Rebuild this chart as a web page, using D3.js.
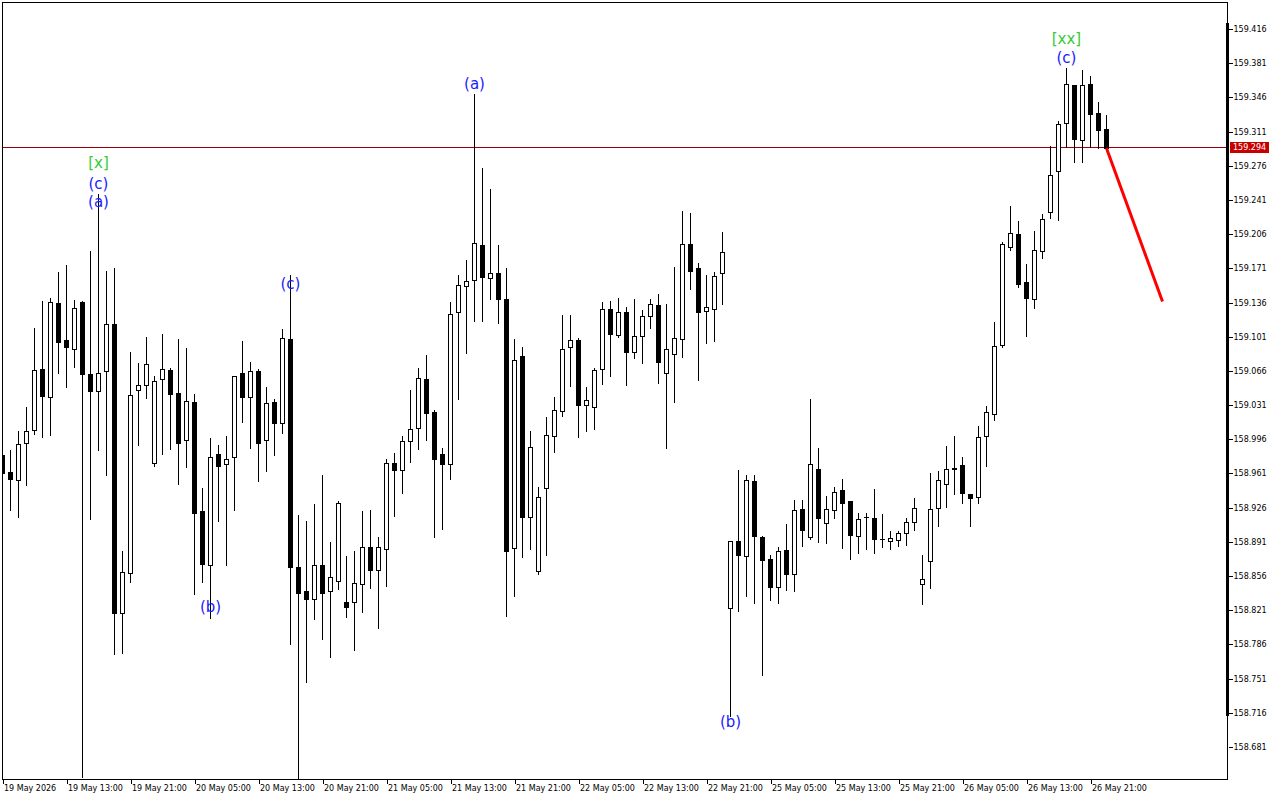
<!DOCTYPE html>
<html><head><meta charset="utf-8">
<script src="https://cdn.jsdelivr.net/npm/d3@7"></script>
<style>body{margin:0;background:#fff;} svg{display:block;} text{font-family:"DejaVu Sans",sans-serif;}</style>
</head><body>
<svg id="chart" width="1280" height="800"></svg>
<script>
const opens = [158.980,158.962,158.954,158.992,159.005,159.068,159.039,159.136,159.098,159.088,
159.137,159.063,159.045,159.066,159.114,158.818,158.859,159.046,159.052,158.972,
159.058,159.067,159.043,158.995,159.034,158.923,158.867,158.981,158.971,158.978,
159.064,159.039,159.066,158.995,159.034,159.013,159.099,158.865,158.841,158.833,
158.867,158.841,158.851,158.829,158.829,158.848,158.886,158.862,158.884,158.972,
158.965,158.994,159.008,159.058,159.024,158.981,158.971,159.126,159.153,159.159,
159.195,159.161,159.166,159.140,158.885,159.081,158.916,158.861,158.946,158.999,
159.025,159.090,159.098,159.031,159.029,159.068,159.129,159.103,159.126,159.085,
159.102,159.122,159.133,159.064,159.083,159.099,159.196,159.171,159.127,159.129,
159.166,158.823,158.892,158.877,158.953,158.896,158.873,158.845,158.883,158.858,
158.925,158.896,158.966,158.910,158.924,158.944,158.933,158.897,158.916,158.915,
158.894,158.892,158.893,158.900,158.911,158.848,158.871,158.926,158.950,158.966,
158.970,158.940,158.937,158.999,159.022,159.093,159.193,159.206,159.157,159.140,
159.189,159.229,159.271,159.320,159.359,159.302,159.360,159.330,159.314];
const highs = [158.990,158.986,159.005,159.030,159.111,159.139,159.142,159.168,159.175,159.140,
159.139,159.190,159.248,159.169,159.172,158.883,159.086,159.075,159.102,159.062,
159.105,159.070,159.100,159.090,159.043,158.947,158.998,158.991,159.000,159.062,
159.098,159.076,159.069,159.051,159.038,159.110,159.165,158.920,158.913,158.931,
158.960,158.892,158.934,158.878,158.883,158.924,158.925,158.897,158.977,158.983,
159.000,159.047,159.070,159.083,159.027,158.988,159.138,159.165,159.181,159.350,
159.275,159.253,159.196,159.172,159.100,159.092,159.005,158.948,159.020,159.040,
159.124,159.124,159.101,159.051,159.070,159.138,159.139,159.142,159.132,159.141,
159.129,159.141,159.146,159.136,159.173,159.231,159.229,159.177,159.165,159.168,
159.209,158.893,158.966,158.960,158.960,158.898,158.879,158.887,158.910,158.935,
158.935,159.038,158.988,158.939,158.948,158.956,158.934,158.922,158.922,158.946,
158.921,158.903,158.903,158.916,158.937,158.879,158.962,158.965,158.990,159.000,
158.979,158.941,159.011,159.031,159.117,159.199,159.236,159.220,159.176,159.210,
159.228,159.297,159.323,159.377,159.360,159.375,159.369,159.342,159.329];
const lows = [158.954,158.925,158.917,158.950,159.002,158.999,159.001,159.065,159.051,159.071,
158.651,158.915,158.986,158.960,158.777,158.778,158.851,158.991,159.039,158.970,
158.982,158.987,158.951,158.969,158.839,158.851,158.814,158.913,158.868,158.925,
159.015,158.988,158.954,158.965,158.981,159.003,158.787,158.645,158.749,158.813,
158.793,158.774,158.844,158.815,158.781,158.820,158.845,158.804,158.847,158.918,
158.942,158.974,158.987,158.996,158.897,158.905,158.956,159.038,159.085,159.118,
159.118,159.141,159.116,158.816,158.837,158.877,158.885,158.859,158.879,158.984,
159.021,159.052,158.999,159.005,159.008,159.054,159.062,159.102,159.053,159.080,
159.075,159.111,159.055,158.988,159.035,159.081,159.151,159.058,159.096,159.098,
159.136,158.714,158.821,158.837,158.829,158.756,158.832,158.829,158.843,158.842,
158.888,158.895,158.892,158.891,158.916,158.886,158.874,158.881,158.885,158.881,
158.887,158.885,158.888,158.889,158.904,158.828,158.845,158.908,158.928,158.941,
158.932,158.908,158.932,158.970,159.017,159.091,159.191,159.153,159.103,159.131,
159.183,159.224,159.222,159.296,159.281,159.281,159.296,159.295,159.294];
const closes = [158.961,158.955,158.991,159.004,159.067,159.040,159.137,159.096,159.090,159.130,
159.063,159.045,159.064,159.114,158.818,158.860,159.041,159.052,159.073,159.056,
159.068,159.042,158.992,159.035,158.921,158.868,158.978,158.969,158.976,159.061,
159.039,159.066,158.992,159.033,159.013,159.100,158.865,158.839,158.833,158.867,
158.839,158.855,158.931,158.824,158.849,158.886,158.862,158.886,158.972,158.965,
158.994,159.007,159.059,159.023,158.976,158.971,159.124,159.154,159.158,159.197,
159.162,159.166,159.140,158.882,159.077,158.916,158.988,158.937,159.000,159.026,
159.088,159.098,159.031,159.036,159.067,159.129,159.104,159.126,159.085,159.102,
159.122,159.134,159.075,159.088,159.100,159.196,159.168,159.126,159.131,159.163,
159.188,158.892,158.878,158.954,158.897,158.872,158.845,158.882,158.858,158.924,
158.903,158.971,158.915,158.925,158.942,158.931,158.898,158.914,158.916,158.894,
158.894,158.895,158.900,158.911,158.926,158.853,158.925,158.954,158.966,158.967,
158.941,158.936,158.998,159.024,159.092,159.196,159.207,159.155,159.141,159.190,
159.222,159.267,159.319,159.360,159.303,159.359,159.329,159.313,159.294];

const timeLabels = ["19 May 2026","19 May 13:00","19 May 21:00","20 May 05:00","20 May 13:00","20 May 21:00",
"21 May 05:00","21 May 13:00","21 May 21:00","22 May 05:00","22 May 13:00","22 May 21:00",
"25 May 05:00","25 May 13:00","25 May 21:00","26 May 05:00","26 May 13:00","26 May 21:00"];
const timeLabelBars = [0,8,16,24,32,40,48,56,64,72,80,88,96,104,112,120,128,136];
const priceTicks = [159.416,159.381,159.346,159.311,159.276,159.241,159.206,159.171,159.136,159.101,159.066,
159.031,158.996,158.961,158.926,158.891,158.856,158.821,158.786,158.751,158.716,158.681];
const currentPrice = 159.294;
const waveText = ["[x]","(c)","(a)","(b)","(c)","(a)","(b)","[xx]","(c)"];
const waveBar = [12,12,12,26,36,59,91,133,133];
const wavePrice = [159.279,159.257,159.239,158.824,159.155,159.360,158.707,159.406,159.386];
const waveDegree = ["major","minor","minor","minor","minor","minor","minor","major","minor"];
const projBars = [138,145];
const projPrices = [159.294,159.137];

const svg = d3.select("#chart");
const x = d3.scaleLinear().domain([0,1]).range([2.5,10.5]);
const y = d3.scaleLinear().domain([158.681,159.416]).range([747,29]);
const py = v => Math.round(y(v)) + 0.5;

const bars = opens.map((o,i)=>({i,o,h:highs[i],l:lows[i],c:closes[i]}));

svg.append("defs").append("clipPath").attr("id","clip")
  .append("rect").attr("x",3).attr("y",3).attr("width",1224).attr("height",776);

const plot = svg.append("g").attr("clip-path","url(#clip)");

// current price line
plot.append("line").attr("x1",3).attr("x2",1227)
  .attr("y1",py(currentPrice)-1).attr("y2",py(currentPrice)-1)
  .attr("stroke","#990000").attr("stroke-width",1);

const cg = plot.append("g");
cg.selectAll("line.wick").data(bars).join("line").attr("class","wick")
  .attr("x1",d=>x(d.i)).attr("x2",d=>x(d.i))
  .attr("y1",d=>py(d.h)).attr("y2",d=>py(d.l)+1)
  .attr("stroke","#000").attr("stroke-width",1).attr("shape-rendering","crispEdges");

cg.selectAll("rect.body").data(bars.filter(d=>Math.abs(py(d.o)-py(d.c))>=1)).join("rect").attr("class","body")
  .attr("x",d=>x(d.i)-2).attr("width",4)
  .attr("y",d=>Math.min(py(d.o),py(d.c)))
  .attr("height",d=>Math.abs(py(d.o)-py(d.c)))
  .attr("fill",d=>d.c>=d.o?"#fff":"#000")
  .attr("stroke","#000").attr("stroke-width",1).attr("shape-rendering","crispEdges");

cg.selectAll("line.doji").data(bars.filter(d=>Math.abs(py(d.o)-py(d.c))<1)).join("line").attr("class","doji")
  .attr("x1",d=>x(d.i)-2.5).attr("x2",d=>x(d.i)+2.5)
  .attr("y1",d=>py(d.c)).attr("y2",d=>py(d.c))
  .attr("stroke","#000").attr("stroke-width",1).attr("shape-rendering","crispEdges");

// projection
plot.append("path")
  .attr("d",d3.line().x(d=>x(d[0])).y(d=>y(d[1]))(projBars.map((b,k)=>[b,projPrices[k]])))
  .attr("stroke","#ff0000").attr("stroke-width",3).attr("fill","none");

// wave labels
svg.append("g").selectAll("text").data(waveText).join("text")
  .attr("x",(d,k)=>x(waveBar[k])).attr("y",(d,k)=>y(wavePrice[k]))
  .attr("text-anchor","middle").attr("dominant-baseline","central")
  .attr("font-size",15)
  .attr("fill",(d,k)=>waveDegree[k]==="major"?"#33cc33":"#1a1aff")
  .text(d=>d);

// frame
svg.append("rect").attr("x",2.5).attr("y",2.5).attr("width",1225).attr("height",777)
  .attr("fill","none").attr("stroke","#000").attr("stroke-width",1);
svg.append("rect").attr("x",1226).attr("y",23).attr("width",3).attr("height",693).attr("fill","#000");

// price axis
const ya = svg.append("g").attr("transform","translate(1228.5,0)")
  .call(d3.axisRight(y).tickValues(priceTicks).tickFormat(d3.format(".3f")).tickSize(4).tickPadding(1));
ya.select(".domain").remove();
ya.attr("font-family","DejaVu Sans").attr("font-size",8);
ya.selectAll("line").attr("shape-rendering","crispEdges");
ya.selectAll(".tick").attr("transform",d=>`translate(0,${py(d)})`);

// current price label
svg.append("rect").attr("x",1230).attr("y",py(currentPrice)-6.5).attr("width",39).attr("height",11).attr("fill","#c80000");
svg.append("text").attr("x",1233).attr("y",py(currentPrice)-1).attr("dy","0.35em")
  .attr("font-size",8).attr("fill","#fff").text(d3.format(".3f")(currentPrice));

// time axis
const xa = svg.append("g").attr("transform","translate(0,779.5)")
  .call(d3.axisBottom(x).tickValues(timeLabelBars).tickFormat((d,k)=>timeLabels[k]).tickSize(4).tickPadding(2));
xa.select(".domain").remove();
xa.attr("font-family","DejaVu Sans").attr("font-size",8);
xa.selectAll("text").attr("text-anchor","start").attr("x",1);
xa.selectAll("line").attr("shape-rendering","crispEdges");
</script>
</body></html>
